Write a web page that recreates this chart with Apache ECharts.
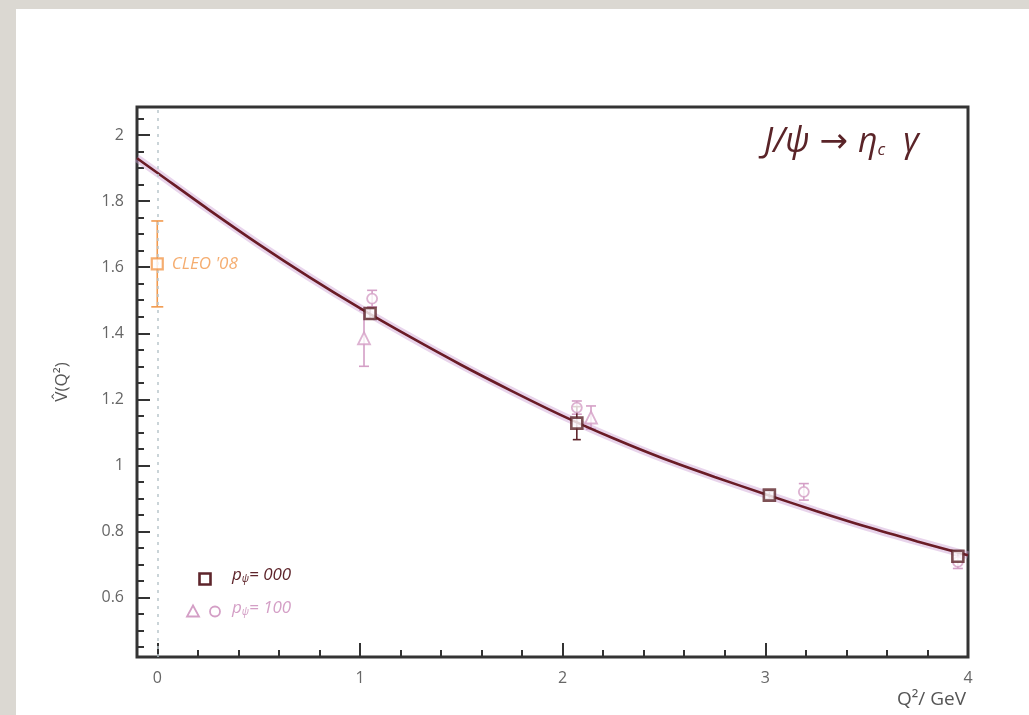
<!DOCTYPE html>
<html>
<head>
<meta charset="utf-8">
<script src="https://cdn.jsdelivr.net/npm/echarts@6/dist/echarts.min.js"></script>
<style>
  html, body { margin: 0; padding: 0; width: 1029px; height: 715px; overflow: hidden; background: #dbd8d2; }
  #paper { position: absolute; left: 16px; top: 9px; right: 0; bottom: 0; background: #ffffff; }
  #chart { position: absolute; left: 0; top: 0; width: 1029px; height: 715px; }
</style>
</head>
<body>
<div id="paper"></div>
<div id="chart"></div>
<script>
// Axis ticks (Q^2 in GeV, normalised form factor)
const xMajorTicks = [0, 1, 2, 3, 4];
const xMinorTicks = [0.2, 0.4, 0.6, 0.8, 1.2, 1.4, 1.6, 1.8, 2.2, 2.4, 2.6, 2.8, 3.2, 3.4, 3.6, 3.8];
const yMajorTicks = [0.6, 0.8, 1, 1.2, 1.4, 1.6, 1.8, 2];
const yMinorTicks = [0.45, 0.5, 0.55, 0.65, 0.7, 0.75, 0.85, 0.9, 0.95, 1.05, 1.1, 1.15,
                     1.25, 1.3, 1.35, 1.45, 1.5, 1.55, 1.65, 1.7, 1.75, 1.85, 1.9, 1.95, 2.05];

// Fitted curve V(Q^2)
const curveQ2 = [-0.1, 0, 0.25, 0.5, 0.75, 1, 1.25, 1.5, 1.75, 2, 2.25, 2.5, 2.75, 3, 3.25, 3.5, 3.75, 4];
const curveV  = [1.930, 1.886, 1.776, 1.670, 1.570, 1.476, 1.388, 1.304, 1.225, 1.150, 1.082, 1.020, 0.965, 0.913, 0.862, 0.814, 0.770, 0.728];

// Lattice points, p_psi = 000 (squares): Q^2, value, error
const p000Q2  = [1.05, 2.07, 3.02, 3.95];
const p000V   = [1.460, 1.128, 0.910, 0.725];
const p000Err = [0.015, 0.050, 0.012, 0.015];

// Lattice points, p_psi = 100 (triangles and circles)
const p100TriQ2  = [1.02, 2.14];
const p100TriV   = [1.385, 1.145];
const p100TriErr = [0.085, 0.035];
const p100CirQ2  = [1.06, 2.07, 3.19, 3.95];
const p100CirV   = [1.505, 1.175, 0.920, 0.708];
const p100CirErr = [0.025, 0.020, 0.025, 0.020];

// Experimental point
const cleoQ2 = [0];
const cleoV = [1.61];
const cleoErr = [0.13];

const C_DARK = '#5e252b';
const C_CURVE = '#6a1c26';
const C_PINK = '#d49fc6';
const C_ORANGE = '#f2994c';
const FONT = '"Open Sans", "DejaVu Sans", sans-serif';

const zip = (xs, ys, es) => xs.map((x, i) => es ? [x, ys[i], es[i]] : [x, ys[i]]);

function errorBars(color, cap) {
  return function (params, api) {
    const x = api.value(0), y = api.value(1), e = api.value(2);
    const hi = api.coord([x, y + e]);
    const lo = api.coord([x, y - e]);
    const st = { stroke: color, lineWidth: 1.6 };
    return {
      type: 'group',
      children: [
        { type: 'line', shape: { x1: hi[0], y1: hi[1], x2: lo[0], y2: lo[1] }, style: st },
        { type: 'line', shape: { x1: hi[0] - cap, y1: hi[1], x2: hi[0] + cap, y2: hi[1] }, style: st },
        { type: 'line', shape: { x1: lo[0] - cap, y1: lo[1], x2: lo[0] + cap, y2: lo[1] }, style: st }
      ]
    };
  };
}

const chart = echarts.init(document.getElementById('chart'), null, { renderer: 'canvas' });

const tickStyle = { color: '#333333', width: 2 };
const hiddenLine = { show: false, onZero: false };

chart.setOption({
  animation: false,
  backgroundColor: 'transparent',
  grid: {
    left: 137, top: 107, right: 61, bottom: 58,
    show: true, borderColor: '#343434', borderWidth: 3, backgroundColor: 'transparent'
  },
  xAxis: [
    {
      type: 'value', min: -0.1, max: 4,
      axisLine: hiddenLine,
      splitLine: { show: false },
      axisTick: { show: true, inside: true, length: 14, customValues: xMajorTicks, lineStyle: tickStyle },
      axisLabel: { customValues: xMajorTicks, margin: 13, color: '#666666', fontSize: 16, fontFamily: FONT, showMaxLabel: true, showMinLabel: true }
    },
    {
      type: 'value', min: -0.1, max: 4, position: 'bottom',
      axisLine: hiddenLine, splitLine: { show: false }, axisLabel: { show: false },
      axisTick: { show: true, inside: true, length: 7, customValues: xMinorTicks, lineStyle: tickStyle }
    }
  ],
  yAxis: [
    {
      type: 'value', min: 0.42, max: 2.085,
      axisLine: hiddenLine,
      splitLine: { show: false },
      axisTick: { show: true, inside: true, length: 13, customValues: yMajorTicks, lineStyle: tickStyle },
      axisLabel: { customValues: yMajorTicks, margin: 13, color: '#666666', fontSize: 16, fontFamily: FONT },
      name: 'V\u0302(Q\u00b2)', nameLocation: 'middle', nameRotate: 90, nameGap: 66,
      nameTextStyle: { color: '#555555', fontSize: 17, fontFamily: FONT }
    },
    {
      type: 'value', min: 0.42, max: 2.085, position: 'left',
      axisLine: hiddenLine, splitLine: { show: false }, axisLabel: { show: false },
      axisTick: { show: true, inside: true, length: 7, customValues: yMinorTicks, lineStyle: tickStyle }
    }
  ],
  series: [
    {
      // faint uncertainty band around the fit
      type: 'line', data: zip(curveQ2, curveV), smooth: 0.3, symbol: 'none', silent: true,
      lineStyle: { color: 'rgba(205,160,210,0.45)', width: 8 },
      markLine: {
        silent: true, symbol: 'none', label: { show: false },
        lineStyle: { color: '#b9c6cc', type: [3, 5], width: 1.5 },
        data: [{ xAxis: 0 }]
      }
    },
    {
      type: 'line', data: zip(curveQ2, curveV), smooth: 0.3, symbol: 'none', silent: true,
      lineStyle: { color: C_CURVE, width: 2.6 }
    },
    { type: 'custom', renderItem: errorBars(C_PINK, 5), data: zip(p100TriQ2, p100TriV, p100TriErr), z: 3 },
    { type: 'custom', renderItem: errorBars(C_PINK, 5), data: zip(p100CirQ2, p100CirV, p100CirErr), z: 3 },
    { type: 'custom', renderItem: errorBars(C_DARK, 4), data: zip(p000Q2, p000V, p000Err), z: 3 },
    { type: 'custom', renderItem: errorBars(C_ORANGE, 6), data: zip(cleoQ2, cleoV, cleoErr), z: 3 },
    {
      type: 'scatter', data: zip(p100TriQ2, p100TriV), symbol: 'triangle', symbolSize: 12, z: 4,
      itemStyle: { color: '#ffffff', borderColor: C_PINK, borderWidth: 1.8 }
    },
    {
      type: 'scatter', data: zip(p100CirQ2, p100CirV), symbol: 'circle', symbolSize: 10, z: 4,
      itemStyle: { color: '#ffffff', borderColor: C_PINK, borderWidth: 1.8 }
    },
    {
      type: 'scatter', data: zip(p000Q2, p000V), symbol: 'rect', symbolSize: 11, z: 5,
      itemStyle: { color: '#ffffff', borderColor: C_DARK, borderWidth: 2.6 }
    },
    {
      type: 'scatter', data: zip(cleoQ2, cleoV), symbol: 'rect', symbolSize: 11, z: 5,
      itemStyle: { color: '#ffffff', borderColor: C_ORANGE, borderWidth: 2.2 },
      label: {
        show: true, position: 'right', distance: 8, formatter: "CLEO '08",
        color: C_ORANGE, fontSize: 17, fontStyle: 'italic', fontFamily: FONT
      }
    }
  ],
  graphic: [
    {
      type: 'text', left: 764, top: 125, z: 10,
      style: {
        text: '{m|J/\u03c8}{a|\u2192}{m|\u03b7}{s|c}{g|\u03b3}',
        rich: {
          m: { fontSize: 34, fontStyle: 'italic', fontFamily: FONT, fill: '#5a2428', lineHeight: 42, verticalAlign: 'bottom' },
          a: { fontSize: 34, fontFamily: FONT, fill: '#5a2428', lineHeight: 42, verticalAlign: 'bottom', padding: [0, 10, 0, 10] },
          s: { fontSize: 17, fontStyle: 'italic', fontFamily: FONT, fill: '#5a2428', lineHeight: 26, verticalAlign: 'bottom' },
          g: { fontSize: 34, fontStyle: 'italic', fontFamily: FONT, fill: '#5a2428', lineHeight: 42, verticalAlign: 'bottom', padding: [0, 0, 0, 18] }
        }
      }
    },
    {
      type: 'text', right: 63, top: 690, z: 10,
      style: { text: 'Q\u00b2/ GeV', fontSize: 19, fontFamily: FONT, fill: '#555555' }
    },
    // legend
    {
      type: 'rect', shape: { x: 199.5, y: 573.5, width: 11, height: 11 }, z: 10,
      style: { fill: '#ffffff', stroke: C_DARK, lineWidth: 2.6 }
    },
    {
      type: 'polygon', shape: { points: [[193, 605.5], [187, 616.5], [199, 616.5]] }, z: 10,
      style: { fill: '#ffffff', stroke: C_PINK, lineWidth: 1.8 }
    },
    {
      type: 'circle', shape: { cx: 215, cy: 611.5, r: 5 }, z: 10,
      style: { fill: '#ffffff', stroke: C_PINK, lineWidth: 1.8 }
    },
    {
      type: 'text', left: 232, top: 567, z: 10,
      style: {
        text: '{i|p}{s|\u03c8}{i|= 000}',
        rich: {
          i: { fontSize: 17, fontStyle: 'italic', fontFamily: FONT, fill: C_DARK, lineHeight: 22, verticalAlign: 'bottom' },
          s: { fontSize: 10, fontStyle: 'italic', fontFamily: FONT, fill: C_DARK, lineHeight: 15, verticalAlign: 'bottom' }
        }
      }
    },
    {
      type: 'text', left: 232, top: 600, z: 10,
      style: {
        text: '{i|p}{s|\u03c8}{i|= 100}',
        rich: {
          i: { fontSize: 17, fontStyle: 'italic', fontFamily: FONT, fill: C_PINK, lineHeight: 22, verticalAlign: 'bottom' },
          s: { fontSize: 10, fontStyle: 'italic', fontFamily: FONT, fill: C_PINK, lineHeight: 15, verticalAlign: 'bottom' }
        }
      }
    }
  ]
});
</script>
</body>
</html>
